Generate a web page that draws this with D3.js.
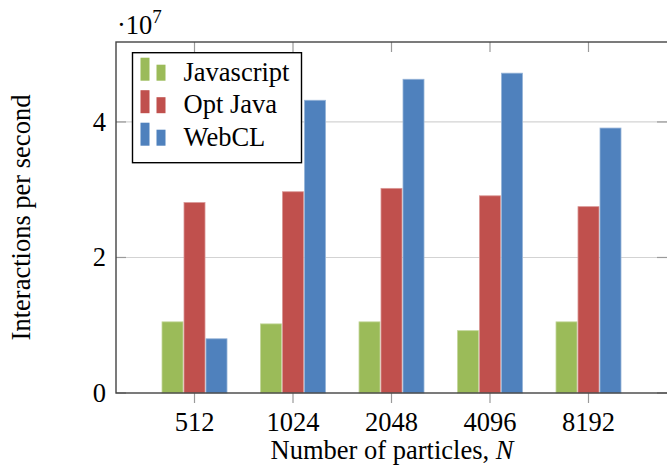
<!DOCTYPE html>
<html>
<head>
<meta charset="utf-8">
<script src="https://cdn.jsdelivr.net/npm/d3@7"></script>
<style>
    body { margin: 0; background: #fff; }
</style>
</head>
<body>
<script>
// 数据
var categories = ["512", "1024", "2048", "4096", "8192"];
var seriesNames = ["Javascript", "Opt Java", "WebCL"];
var javascript = [1.05e7, 1.02e7, 1.05e7, 0.92e7, 1.05e7];
var optJava = [2.81e7, 2.97e7, 3.02e7, 2.91e7, 2.75e7];
var webCL = [0.80e7, 4.32e7, 4.63e7, 4.72e7, 3.91e7];
var yTicks = [0, 2e7, 4e7];

var series = [javascript, optJava, webCL];
var colors = ["#9bbb59", "#c0504d", "#4f81bd"];
var edges = ["#c3d69b", "#d99694", "#95b3d7"];

// 边距
var margin = { top: 42, right: 0, bottom: 73, left: 116 },
    width = 667 - margin.left - margin.right,
    height = 466 - margin.top - margin.bottom;

var fontFamily = "'Liberation Serif', 'Times New Roman', Times, 'DejaVu Serif', serif";
var fontSize = "26.5px";

// 比例尺
var x = d3.scalePoint()
    .domain(categories)
    .range([0, width])
    .padding(0.797);

var y = d3.scaleLinear()
    .domain([0, 5.18e7])
    .range([height, 0]);

var barWidth = 21,
    barStep = 22;

var svg = d3.select("body").append("svg")
    .attr("width", 667)
    .attr("height", 466)
    .attr("font-family", fontFamily)
    .style("font-family", fontFamily);

var chart = svg.append("g")
    .attr("transform", "translate(" + margin.left + "," + margin.top + ")");

// 网格线
chart.append("g")
    .selectAll("line")
    .data(yTicks.filter(function (d) { return d > 0; }))
    .enter()
    .append("line")
    .attr("x1", 0)
    .attr("x2", width)
    .attr("y1", function (d) { return y(d); })
    .attr("y2", function (d) { return y(d); })
    .attr("stroke", "#d3d3d3")
    .attr("stroke-width", 1.2);

// 柱子
series.forEach(function (values, i) {
    chart.append("g")
        .selectAll("rect")
        .data(values)
        .enter()
        .append("rect")
        .attr("x", function (d, j) { return x(categories[j]) + (i - 1) * barStep - barWidth / 2; })
        .attr("y", function (d) { return y(d); })
        .attr("width", barWidth)
        .attr("height", function (d) { return height - y(d); })
        .style("fill", colors[i])
        .style("stroke", edges[i])
        .style("stroke-width", 0.8);
});

// y轴刻度（左右两侧，向内）
var yTickGroup = chart.append("g");
yTickGroup.selectAll(".lt")
    .data(yTicks)
    .enter()
    .append("line")
    .attr("x1", 0).attr("x2", 10)
    .attr("y1", function (d) { return y(d); })
    .attr("y2", function (d) { return y(d); })
    .attr("stroke", "#9a9a9a")
    .attr("stroke-width", 1.2);
yTickGroup.selectAll(".rt")
    .data(yTicks)
    .enter()
    .append("line")
    .attr("x1", width - 10).attr("x2", width)
    .attr("y1", function (d) { return y(d); })
    .attr("y2", function (d) { return y(d); })
    .attr("stroke", "#9a9a9a")
    .attr("stroke-width", 1.2);

// y轴标签
chart.append("g")
    .selectAll("text")
    .data(yTicks)
    .enter()
    .append("text")
    .attr("x", -10)
    .attr("y", function (d) { return y(d); })
    .attr("dy", "0.33em")
    .attr("text-anchor", "end")
    .attr("font-size", fontSize)
    .text(function (d) { return d / 1e7; });

// x轴刻度：底部向外，顶部向内
chart.append("g")
    .selectAll("line")
    .data(categories)
    .enter()
    .append("line")
    .attr("x1", function (d) { return x(d); })
    .attr("x2", function (d) { return x(d); })
    .attr("y1", height)
    .attr("y2", height + 10)
    .attr("stroke", "#9a9a9a")
    .attr("stroke-width", 1.2);
chart.append("g")
    .selectAll("line")
    .data(categories)
    .enter()
    .append("line")
    .attr("x1", function (d) { return x(d); })
    .attr("x2", function (d) { return x(d); })
    .attr("y1", 0)
    .attr("y2", 10)
    .attr("stroke", "#9a9a9a")
    .attr("stroke-width", 1.2);

chart.append("g")
    .selectAll("text")
    .data(categories)
    .enter()
    .append("text")
    .attr("x", function (d) { return x(d); })
    .attr("y", height + 38)
    .attr("text-anchor", "middle")
    .attr("font-size", fontSize)
    .text(function (d) { return d; });

// 外框
chart.append("rect")
    .attr("x", 0)
    .attr("y", 0)
    .attr("width", width + 1)
    .attr("height", height)
    .attr("fill", "none")
    .attr("stroke", "#444")
    .attr("stroke-width", 1.4);

// 坐标轴名称
chart.append("text")
    .attr("x", width / 2 + 0.5)
    .attr("y", height + 66)
    .attr("text-anchor", "middle")
    .attr("font-size", fontSize)
    .text("Number of particles, ")
    .append("tspan")
    .style("font-style", "italic")
    .text("N");

chart.append("text")
    .attr("transform", "translate(" + (-86) + "," + (height / 2) + ") rotate(-90)")
    .attr("text-anchor", "middle")
    .attr("font-size", fontSize)
    .text("Interactions per second");

// 科学计数法标记
var expo = chart.append("text")
    .attr("x", 1)
    .attr("y", -8)
    .attr("font-size", fontSize);
expo.append("tspan").text("\u00b710");
expo.append("tspan")
    .attr("dy", -11)
    .attr("font-size", "19px")
    .text("7");

// 图例
var legend = chart.append("g")
    .attr("transform", "translate(16.5,10.7)");

legend.append("rect")
    .attr("width", 169)
    .attr("height", 110)
    .attr("fill", "#fff")
    .attr("stroke", "#000")
    .attr("stroke-width", 1.4);

var item = legend.selectAll(".item")
    .data(seriesNames)
    .enter()
    .append("g")
    .attr("transform", function (d, i) { return "translate(0," + (i * 32.5) + ")"; });

item.append("rect")
    .attr("x", 8).attr("y", 5)
    .attr("width", 9).attr("height", 23)
    .style("fill", function (d, i) { return colors[i]; });
item.append("rect")
    .attr("x", 24).attr("y", 12)
    .attr("width", 9).attr("height", 16)
    .style("fill", function (d, i) { return colors[i]; });

item.append("text")
    .attr("x", 51)
    .attr("y", 28)
    .attr("font-size", fontSize)
    .text(function (d) { return d; });
</script>
</body>
</html>
